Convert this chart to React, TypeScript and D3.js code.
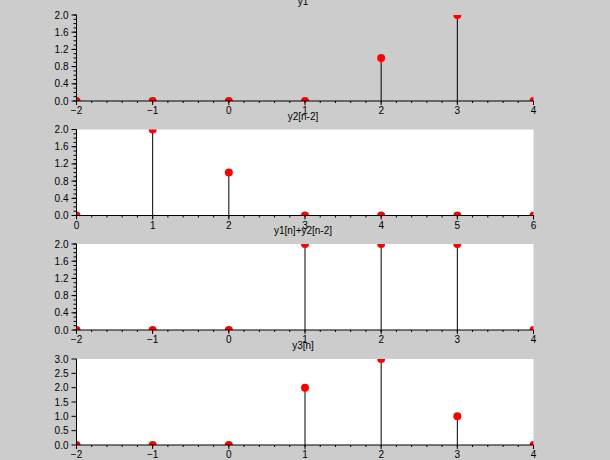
import React from "react";
import * as d3 from "d3";

const titles = ["y1", "y2[n-2]", "y1[n]+y2[n-2]", "y3[n]"];
const nY1 = [-2, -1, 0, 1, 2, 3, 4];
const vY1 = [0, 0, 0, 0, 1, 2, 0];
const nY2 = [0, 1, 2, 3, 4, 5, 6];
const vY2 = [0, 2, 1, 0, 0, 0, 0];
const nSum = [-2, -1, 0, 1, 2, 3, 4];
const vSum = [0, 0, 0, 2, 2, 2, 0];
const nY3 = [-2, -1, 0, 1, 2, 3, 4];
const vY3 = [0, 0, 0, 2, 3, 1, 0];
const yMaxes = [2, 2, 2, 3];
const yStepMajor = [0.4, 0.4, 0.4, 0.5];
const yStepMinor = [0.1, 0.1, 0.1, 0];

const panels = [
  { n: nY1, v: vY1 },
  { n: nY2, v: vY2 },
  { n: nSum, v: vSum },
  { n: nY3, v: vY3 },
];

const W = 610;
const H = 460;
const left = 76.5;
const right = 533.5;
const tops = [15, 129.5, 244, 359];
const ph = 86;
const font = "'Liberation Sans', Arial, sans-serif";

function range(a: number, b: number, s: number) {
  const out: number[] = [];
  const n = Math.round((b - a) / s);
  for (let i = 0; i <= n; i++) out.push(a + i * s);
  return out;
}

export default function App() {
  return (
    <svg width={W} height={H} style={{ position: "absolute", left: 0, top: 0 }}>
      <rect x={0} y={0} width={W} height={H} fill="#cccccc" />
      {panels.map((p, i) => {
        const top = tops[i];
        const bottom = top + ph;
        const x = d3.scaleLinear().domain([d3.min(p.n)!, d3.max(p.n)!]).range([left, right]);
        const y = d3.scaleLinear().domain([0, yMaxes[i]]).range([bottom, top]);
        const [x0, x1] = x.domain();
        const xMaj = range(x0, x1, 1);
        const xMin = range(x0, x1, 0.2);
        const yMaj = range(0, yMaxes[i], yStepMajor[i]);
        const yMin = yStepMinor[i] ? range(0, yMaxes[i], yStepMinor[i]) : [];
        const cid = `clip${i}`;
        return (
          <g key={i}>
            <defs>
              <clipPath id={cid}>
                <rect x={left} y={top} width={right - left} height={ph} />
              </clipPath>
            </defs>
            {i > 0 && <rect x={left} y={top} width={right - left} height={ph} fill="#ffffff" />}
            <text x={303} y={top - 10} textAnchor="middle" fontFamily={font} fontSize={10} fill="#000">
              {titles[i]}
            </text>
            <g clipPath={`url(#${cid})`}>
              {p.n.map((n, j) => (
                <line key={"s" + j} x1={x(n)} x2={x(n)} y1={y(0)} y2={y(p.v[j])} stroke="#000" strokeWidth={1} />
              ))}
              {p.n.map((n, j) => (
                <circle key={"c" + j} cx={x(n)} cy={y(p.v[j])} r={4} fill="#ff0000" />
              ))}
            </g>
            <line x1={left} x2={right} y1={bottom} y2={bottom} stroke="#000" strokeWidth={1} />
            <line x1={left} x2={left} y1={top} y2={bottom} stroke="#000" strokeWidth={1} />
            {xMin.map((t, j) => (
              <line key={"xm" + j} x1={x(t)} x2={x(t)} y1={bottom} y2={bottom + 2} stroke="#000" />
            ))}
            {xMaj.map((t, j) => (
              <g key={"xM" + j}>
                <line x1={x(t)} x2={x(t)} y1={bottom} y2={bottom + 4} stroke="#000" />
                <text x={x(t)} y={bottom + 13} textAnchor="middle" fontFamily={font} fontSize={10} fill="#000">
                  {d3.format("d")(t)}
                </text>
              </g>
            ))}
            {yMin.map((t, j) => (
              <line key={"ym" + j} x1={left - 3} x2={left} y1={y(t)} y2={y(t)} stroke="#000" />
            ))}
            {yMaj.map((t, j) => (
              <g key={"yM" + j}>
                <line x1={left - 5} x2={left} y1={y(t)} y2={y(t)} stroke="#000" />
                <text x={left - 8} y={y(t) + 3.5} textAnchor="end" fontFamily={font} fontSize={10} fill="#000">
                  {d3.format(".1f")(t)}
                </text>
              </g>
            ))}
          </g>
        );
      })}
    </svg>
  );
}
